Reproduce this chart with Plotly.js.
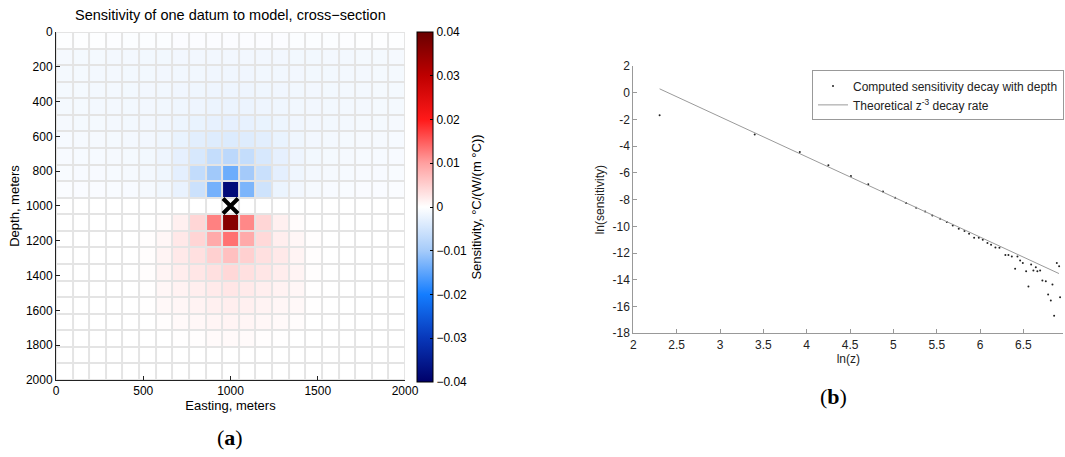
<!DOCTYPE html>
<html>
<head>
<meta charset="utf-8">
<script src="https://cdn.plot.ly/plotly-3.0.1.min.js"></script>
<style>html,body{margin:0;padding:0;background:#fff;}#chart{width:1065px;height:457px;}</style>
</head>
<body>
<div id="chart"></div>
<script>
// ---------- Panel (a): sensitivity cross-section (21 x 21 cells) ----------
const eastings = [47.62,142.86,238.10,333.33,428.57,523.81,619.05,714.29,809.52,904.76,1000,1095.24,1190.48,1285.71,1380.95,1476.19,1571.43,1666.67,1761.90,1857.14,1952.38];
const depths   = [47.62,142.86,238.10,333.33,428.57,523.81,619.05,714.29,809.52,904.76,1000,1095.24,1190.48,1285.71,1380.95,1476.19,1571.43,1666.67,1761.90,1857.14,1952.38];
const sensitivity = [
  [-0.0002,-0.0002,-0.0002,-0.0003,-0.0004,-0.0004,-0.0004,-0.0005,-0.0005,-0.0005,-0.0005,-0.0005,-0.0005,-0.0005,-0.0004,-0.0004,-0.0004,-0.0003,-0.0002,-0.0002,-0.0002],
  [-0.0011,-0.0012,-0.0012,-0.0013,-0.0013,-0.0014,-0.0014,-0.0015,-0.0015,-0.0015,-0.0015,-0.0015,-0.0015,-0.0015,-0.0014,-0.0014,-0.0013,-0.0013,-0.0012,-0.0012,-0.0011],
  [-0.0012,-0.0012,-0.0013,-0.0013,-0.0014,-0.0014,-0.0015,-0.0016,-0.0016,-0.0017,-0.0017,-0.0017,-0.0016,-0.0016,-0.0015,-0.0014,-0.0014,-0.0013,-0.0013,-0.0012,-0.0012],
  [-0.0012,-0.0012,-0.0013,-0.0013,-0.0014,-0.0015,-0.0016,-0.0017,-0.0018,-0.0019,-0.0019,-0.0019,-0.0018,-0.0017,-0.0016,-0.0015,-0.0014,-0.0013,-0.0013,-0.0012,-0.0012],
  [-0.0012,-0.0012,-0.0013,-0.0013,-0.0014,-0.0015,-0.0016,-0.0018,-0.0019,-0.0021,-0.0021,-0.0021,-0.0019,-0.0018,-0.0016,-0.0015,-0.0014,-0.0013,-0.0013,-0.0012,-0.0012],
  [-0.0011,-0.0012,-0.0012,-0.0013,-0.0014,-0.0015,-0.0017,-0.0020,-0.0024,-0.0027,-0.0028,-0.0027,-0.0024,-0.0020,-0.0017,-0.0015,-0.0014,-0.0013,-0.0012,-0.0012,-0.0011],
  [-0.0010,-0.0011,-0.0011,-0.0012,-0.0013,-0.0015,-0.0018,-0.0024,-0.0032,-0.0037,-0.0039,-0.0037,-0.0032,-0.0024,-0.0018,-0.0015,-0.0013,-0.0012,-0.0011,-0.0011,-0.0010],
  [-0.0009,-0.0010,-0.0010,-0.0011,-0.0012,-0.0014,-0.0019,-0.0028,-0.0045,-0.0066,-0.0075,-0.0066,-0.0045,-0.0028,-0.0019,-0.0014,-0.0012,-0.0011,-0.0010,-0.0010,-0.0009],
  [-0.0008,-0.0009,-0.0009,-0.0010,-0.0011,-0.0013,-0.0018,-0.0030,-0.0068,-0.0103,-0.0139,-0.0101,-0.0060,-0.0030,-0.0018,-0.0013,-0.0011,-0.0010,-0.0009,-0.0009,-0.0008],
  [-0.0006,-0.0007,-0.0007,-0.0008,-0.0009,-0.0011,-0.0016,-0.0025,-0.0058,-0.0133,-0.0380,-0.0128,-0.0054,-0.0022,-0.0015,-0.0011,-0.0009,-0.0008,-0.0007,-0.0007,-0.0006],
  [0,0,0,0,0,0,0,0,0,0,0,0,0,0,0,0,0,0,0,0,0],
  [0,0,0,0,0,0,0.0003,0.0016,0.0043,0.0123,0.0365,0.0118,0.0043,0.0016,0.0003,0,0,0,0,0,0],
  [0,0,0,0,0,0.0002,0.0009,0.0024,0.0044,0.0090,0.0134,0.0090,0.0040,0.0018,0.0009,0.0002,0,0,0,0,0],
  [0,0,0,0,0,0.0002,0.0012,0.0023,0.0033,0.0050,0.0066,0.0050,0.0033,0.0023,0.0012,0.0002,0,0,0,0,0],
  [0,0,0,0,0,0.0002,0.0012,0.0019,0.0026,0.0033,0.0041,0.0033,0.0026,0.0019,0.0012,0.0002,0,0,0,0,0],
  [0,0,0,0,0,0.0001,0.0009,0.0014,0.0018,0.0022,0.0026,0.0022,0.0018,0.0014,0.0009,0.0001,0,0,0,0,0],
  [0,0,0,0,0,0.0001,0.0007,0.0010,0.0013,0.0016,0.0018,0.0016,0.0013,0.0010,0.0007,0.0001,0,0,0,0,0],
  [0,0,0,0,0,0,0.0002,0.0006,0.0008,0.0011,0.0012,0.0011,0.0008,0.0006,0.0003,0,0,0,0,0,0],
  [0,0,0,0,0,0,0,0.0001,0.0002,0.0005,0.0006,0.0005,0.0002,0.0001,0,0,0,0,0,0,0],
  [0,0,0,0,0,0,0,0,0,0,0,0,0,0,0,0,0,0,0,0,0],
  [0,0,0,0,0,0,0,0,0,0,0,0,0,0,0,0,0,0,0,0,0]
];
const datumX = [1000];
const datumDepth = [1000];
const eastTicks = [0,500,1000,1500,2000];
const depthTicks = [0,200,400,600,800,1000,1200,1400,1600,1800,2000];
const cbTicks = [-0.04,-0.03,-0.02,-0.01,0,0.01,0.02,0.03,0.04];

// ---------- Panel (b): decay with depth ----------
const lnZ = [2.303,3.40,3.92,4.25,4.51,4.71,4.88,5.02,5.147,5.262,5.366,5.45,5.539,5.616,5.685,5.754,5.82,5.873,5.931,5.985,6.031,6.085,6.127,6.177,6.223,6.292,6.327,6.366,6.404,6.431,6.462,6.493,6.531,6.558,6.589,6.615,6.643,6.661,6.693,6.719,6.758,6.785,6.816,6.835,6.854,6.885,6.912,6.923];
const lnSens = [-1.68,-3.13,-4.43,-5.43,-6.23,-6.85,-7.40,-7.85,-8.25,-8.60,-8.88,-9.18,-9.43,-9.68,-9.93,-10.18,-10.35,-10.55,-10.85,-10.85,-11.0,-11.25,-11.38,-11.58,-11.6,-12.15,-12.15,-12.25,-13.18,-12.25,-12.55,-12.75,-13.35,-14.5,-12.85,-13.3,-13.05,-13.35,-13.3,-14.05,-14.1,-15.1,-15.55,-14.35,-16.68,-12.75,-12.98,-15.3];
const theoryX = [2.303, 6.91];
const theoryY = [0.29, -13.53];
const lnZTicks = [2,2.5,3,3.5,4,4.5,5,5.5,6,6.5];
const lnSTicks = [-18,-16,-14,-12,-10,-8,-6,-4,-2,0,2];
const lnSTickText = ['-18','-16','-14','-12','-10','-8','-6','-4','-2','0','2'];

const FONT = 'Liberation Sans, Arial, Helvetica, sans-serif';

const colorscale = [
  [0, 'rgb(0,0,105)'],
  [0.125, 'rgb(8,55,185)'],
  [0.25, 'rgb(20,125,255)'],
  [0.375, 'rgb(165,203,250)'],
  [0.5, 'rgb(255,255,255)'],
  [0.625, 'rgb(255,160,160)'],
  [0.75, 'rgb(255,25,25)'],
  [0.875, 'rgb(190,0,0)'],
  [1, 'rgb(105,0,0)']
];

const traces = [
  {
    type: 'heatmap', x: eastings, y: depths, z: sensitivity,
    xaxis: 'x', yaxis: 'y',
    zmin: -0.04, zmax: 0.04, colorscale: colorscale,
    xgap: 2, ygap: 2, showlegend: false, hoverinfo: 'skip',
    colorbar: {
      x: 0.3915, xanchor: 'left', xpad: 0, ypad: 0,
      y: 0.547, yanchor: 'middle', len: 0.766, lenmode: 'fraction',
      thickness: 16, outlinecolor: '#000', outlinewidth: 1,
      tickmode: 'array', tickvals: cbTicks,
      ticks: 'inside', ticklen: 3, tickcolor: '#000',
      tickfont: {family: FONT, size: 12, color: '#000'},
      title: {text: 'Sensitivity, °C/(W/(m °C))', side: 'right', font: {family: FONT, size: 13, color: '#000'}}
    }
  },
  {
    type: 'scatter', mode: 'markers', x: datumX, y: datumDepth,
    xaxis: 'x', yaxis: 'y', showlegend: false, hoverinfo: 'skip',
    marker: {symbol: 'x-thin', size: 15, color: '#000', line: {width: 4, color: '#000'}}
  },
  {
    type: 'scatter', mode: 'markers', x: lnZ, y: lnSens,
    xaxis: 'x2', yaxis: 'y2', name: 'Computed sensitivity decay with depth',
    marker: {size: 2, color: '#222'}
  },
  {
    type: 'scatter', mode: 'lines', x: theoryX, y: theoryY,
    xaxis: 'x2', yaxis: 'y2', name: 'Theoretical z<sup>-3</sup> decay rate',
    line: {color: '#9a9a9a', width: 1}
  }
];

const layout = {
  width: 1065, height: 457,
  margin: {l: 0, r: 0, t: 0, b: 0, autoexpand: false},
  paper_bgcolor: '#fff', plot_bgcolor: 'rgba(0,0,0,0)',
  font: {family: FONT, size: 11, color: '#000'},
  xaxis: {
    domain: [0.0526, 0.3803], anchor: 'y', range: [0, 2000],
    tickmode: 'array', tickvals: eastTicks,
    ticks: 'inside', ticklen: 4, tickcolor: '#222',
    showline: true, linecolor: '#222', linewidth: 1, mirror: false,
    showgrid: false, zeroline: false,
    tickfont: {family: FONT, size: 12, color: '#000'},
    title: {text: 'Easting, meters', font: {family: FONT, size: 13, color: '#000'}, standoff: 1}
  },
  yaxis: {
    domain: [0.1685, 0.930], anchor: 'x', range: [2000, 0],
    tickmode: 'array', tickvals: depthTicks,
    ticks: 'inside', ticklen: 4, tickcolor: '#222',
    showline: true, linecolor: '#222', linewidth: 1, mirror: false,
    showgrid: false, zeroline: false,
    tickfont: {family: FONT, size: 12, color: '#000'},
    title: {text: 'Depth, meters', font: {family: FONT, size: 13, color: '#000'}, standoff: 3}
  },
  xaxis2: {
    domain: [0.5947, 0.9984], anchor: 'y2', range: [2, 6.96],
    tickmode: 'array', tickvals: lnZTicks,
    ticks: 'inside', ticklen: 4, tickcolor: '#999',
    showline: true, linecolor: '#999', linewidth: 1, mirror: false,
    showgrid: false, zeroline: false,
    tickfont: {family: FONT, size: 12, color: '#222'},
    title: {text: 'ln(z)', font: {family: FONT, size: 12, color: '#222'}, standoff: 0}
  },
  yaxis2: {
    domain: [0.2707, 0.8556], anchor: 'x2', range: [-18, 2],
    tickmode: 'array', tickvals: lnSTicks, ticktext: lnSTickText,
    ticks: 'inside', ticklen: 4, tickcolor: '#999',
    showline: true, linecolor: '#999', linewidth: 1, mirror: false,
    showgrid: false, zeroline: false,
    tickfont: {family: FONT, size: 12, color: '#222'},
    title: {text: 'ln(sensitivity)', font: {family: FONT, size: 12, color: '#222'}, standoff: 5}
  },
  showlegend: true,
  legend: {
    x: 812/1065, y: 0.846, xanchor: 'left', yanchor: 'top',
    bgcolor: '#fff', bordercolor: '#999', borderwidth: 1,
    font: {family: FONT, size: 12, color: '#222'},
    tracegroupgap: 0, itemwidth: 30
  },
  shapes: [
    {type: 'rect', xref: 'x', yref: 'y', x0: 0, x1: 2000, y0: 0, y1: 2000,
     fillcolor: '#e4e4e4', line: {width: 0}, layer: 'below'}
  ],
  annotations: [
    {text: 'Sensitivity of one datum to model, cross−section', xref: 'paper', yref: 'paper',
     x: 0.216, y: 1 - 15/457, xanchor: 'center', yanchor: 'middle', showarrow: false,
     font: {family: FONT, size: 14.5, color: '#000'}},
    {text: '(<b>a</b>)', xref: 'paper', yref: 'paper',
     x: 230/1065, y: 1 - 437/457, xanchor: 'center', yanchor: 'middle', showarrow: false,
     font: {family: 'Liberation Serif, DejaVu Serif, serif', size: 22, color: '#000'}},
    {text: '(<b>b</b>)', xref: 'paper', yref: 'paper',
     x: 833/1065, y: 1 - 396/457, xanchor: 'center', yanchor: 'middle', showarrow: false,
     font: {family: 'Liberation Serif, DejaVu Serif, serif', size: 22, color: '#000'}}
  ]
};

Plotly.newPlot('chart', traces, layout, {displayModeBar: false, staticPlot: true});
</script>
</body>
</html>
